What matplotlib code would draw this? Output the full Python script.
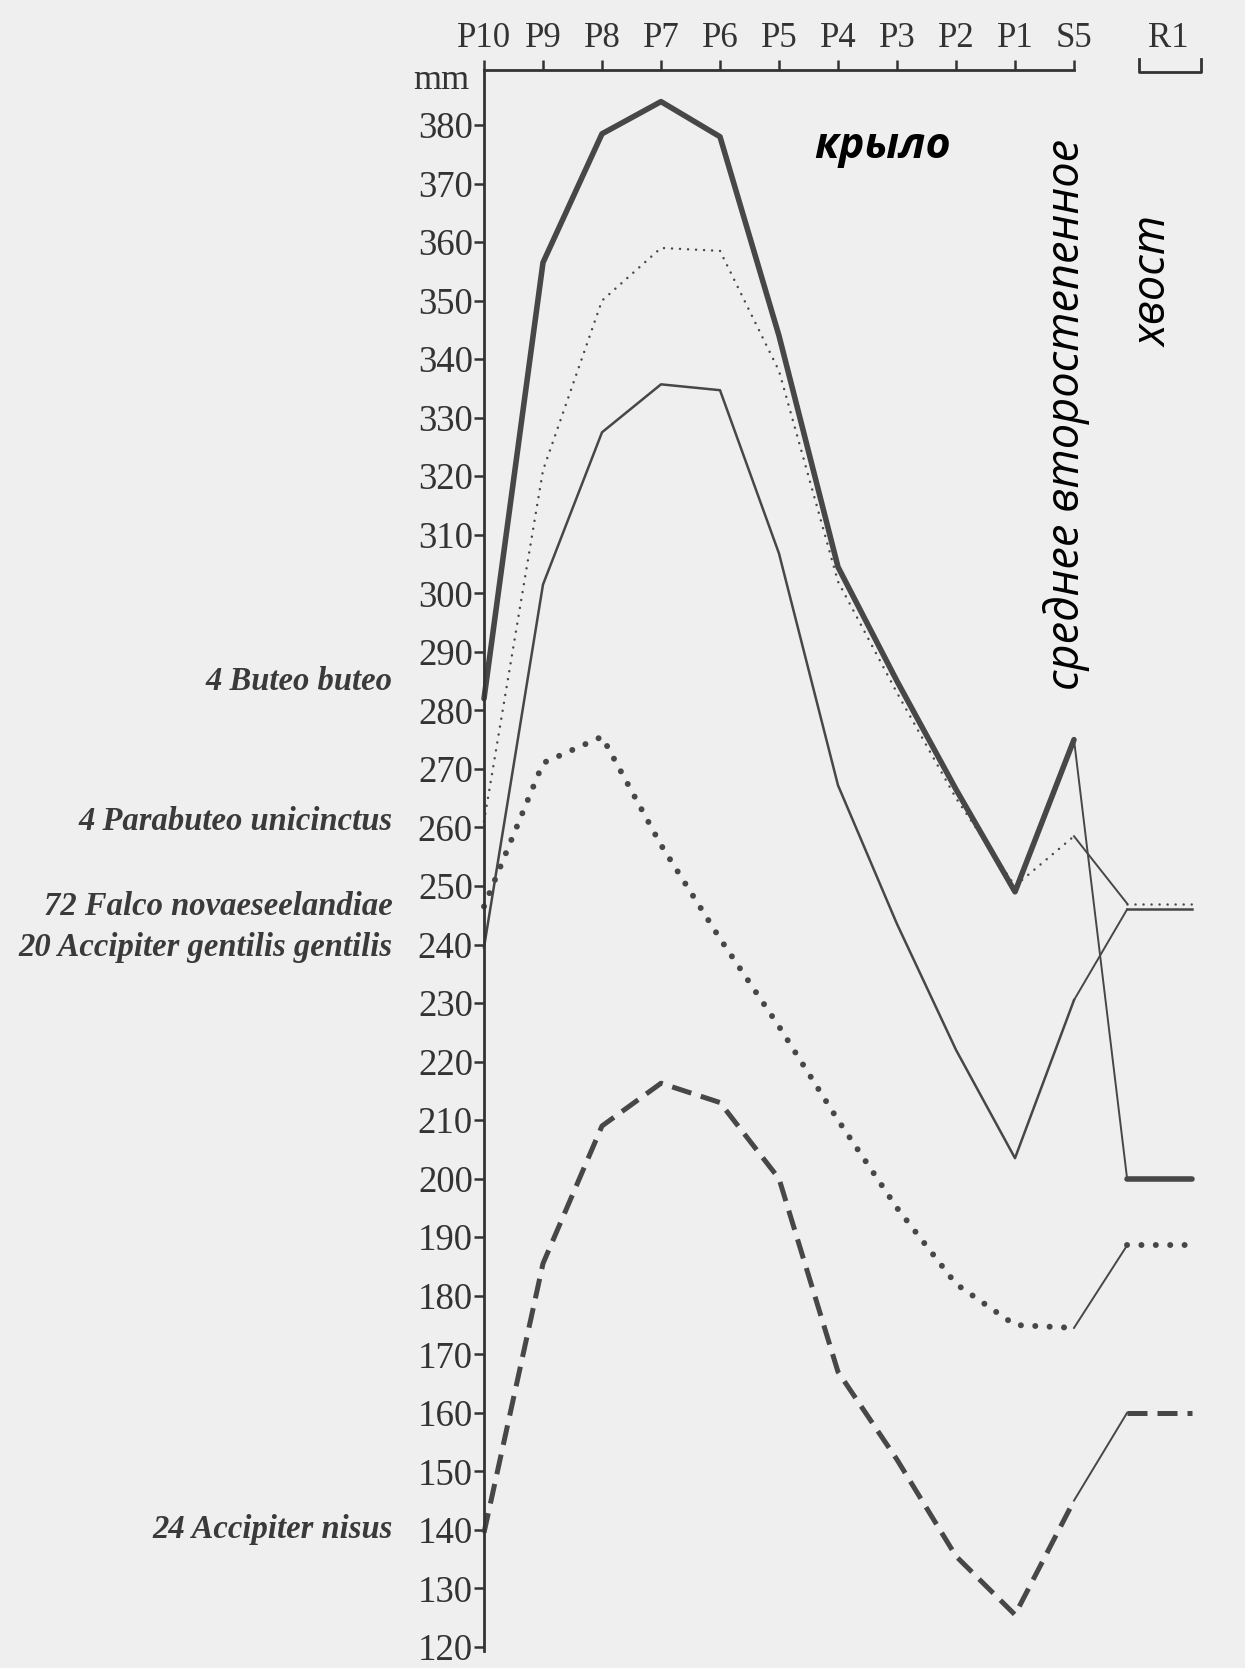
import matplotlib.pyplot as plt
from matplotlib import transforms

# feather positions along the wing, then the tail feather
feathers = ['P10', 'P9', 'P8', 'P7', 'P6', 'P5', 'P4', 'P3', 'P2', 'P1', 'S5']
tail_name = 'R1'

species = [
    '4 Buteo buteo',
    '4 Parabuteo unicinctus',
    '72 Falco novaeseelandiae',
    '20 Accipiter gentilis gentilis',
    '24 Accipiter nisus',
]

# feather lengths, mm (P10 .. P1, S5)
buteo = [282, 356.5, 378.5, 384, 378, 344, 304.5, 285, 266.5, 249, 275]
parabuteo = [261, 321, 350, 359, 358.5, 338, 302, 283, 265, 250, 258.5]
falco = [246.5, 271, 275.5, 257, 241, 226, 210, 195, 182, 175, 174.5]
gentilis = [239.5, 301.5, 327.5, 335.7, 334.7, 306.8, 267.2, 243.5, 222, 203.5, 230.5]
nisus = [139.5, 185.5, 209, 216.3, 213, 200, 167, 152, 135.5, 125.5, 145]

# R1 (tail) lengths, mm
tail = [200, 247, 188.6, 246, 160]

ink = '#474747'
paper = '#efefef'

styles = [
    dict(lw=4.0, ls='-', solid_capstyle='round'),
    dict(lw=1.8, ls=(0, (0.01, 3.2)), dash_capstyle='round'),
    dict(lw=4.3, ls=(0, (0.01, 2.4)), dash_capstyle='round'),
    dict(lw=1.8, ls='-'),
    dict(lw=3.6, ls=(0, (4, 2))),
]
label_y = [285, 261, 246.5, 239.5, 140]

fig = plt.figure(figsize=(12.45, 16.68), dpi=100, facecolor=paper)
ax = fig.add_axes([484 / 1245, 0, 12.5 * 59 / 1245, 1598 / 1668])
ax.set_facecolor('none')
ax.set_xlim(0, 12.5)
ax.set_ylim(116.4, 389.4)

x = list(range(len(feathers)))
series = [buteo, parabuteo, falco, gentilis, nisus]
for vals, t, st in zip(series, tail, styles):
    ax.plot(x, vals, color=ink, clip_on=False, **st)
    ax.plot([x[-1], 10.9], [vals[-1], t], color=ink, lw=1.4)
    ax.plot([10.9, 12.0], [t, t], color=ink, clip_on=False, **st)

serif = 'Liberation Serif'
for name, y in zip(species, label_y):
    ax.annotate(name, xy=(0, y), xytext=(-66, 0), textcoords='offset points',
                ha='right', va='center', fontsize=23.5, family=serif,
                fontweight='bold', style='italic', color='#3a3a3a',
                annotation_clip=False)

# axes styling
for side in ['right', 'bottom']:
    ax.spines[side].set_visible(False)
ax.spines['left'].set_bounds(119.3, 389.4)
ax.spines['top'].set_bounds(0, 10)
for side in ['left', 'top']:
    ax.spines[side].set_linewidth(2.0)
    ax.spines[side].set_color('#333333')

ax.set_yticks(range(120, 390, 10))
ax.tick_params(axis='y', direction='out', length=7, width=1.8, color='#333333',
               labelsize=26.5, labelcolor='#333333', pad=1)
for lab in ax.get_yticklabels():
    lab.set_family(serif)

ax.xaxis.tick_top()
ax.set_xticks(x + [11.6])
ax.set_xticklabels(feathers + [tail_name], family=serif, fontsize=25, color='#333333')
ax.tick_params(axis='x', direction='out', length=7, width=1.8, color='#333333', pad=4)
ax.xaxis.get_major_ticks()[-1].tick2line.set_visible(False)

# bracket over the tail feather
tr = transforms.blended_transform_factory(ax.transData, ax.transAxes)
ax.plot([11.1, 11.1, 12.15, 12.15], [1.007, 0.9985, 0.9985, 1.007], transform=tr,
        color='#333333', lw=2.0, clip_on=False)

ax.text(-0.25, 387.6, 'mm', ha='right', va='center', family=serif, fontsize=26, color='#333333')

ru = 'Open Sans'
ax.text(6.76, 376.4, 'крыло', ha='center', va='center', family=ru, fontsize=31,
        style='italic', fontweight='bold', color='black')
ax.text(9.88, 330.5, 'среднее второстепенное', ha='center', va='center', rotation=90,
        family=ru, fontsize=32.5, style='italic', fontweight='medium', color='black')
ax.text(11.37, 353.3, 'хвост', ha='center', va='center', rotation=90,
        family=ru, fontsize=32.5, style='italic', fontweight='medium', color='black')

fig.savefig('out.png', dpi=100, facecolor=paper)
